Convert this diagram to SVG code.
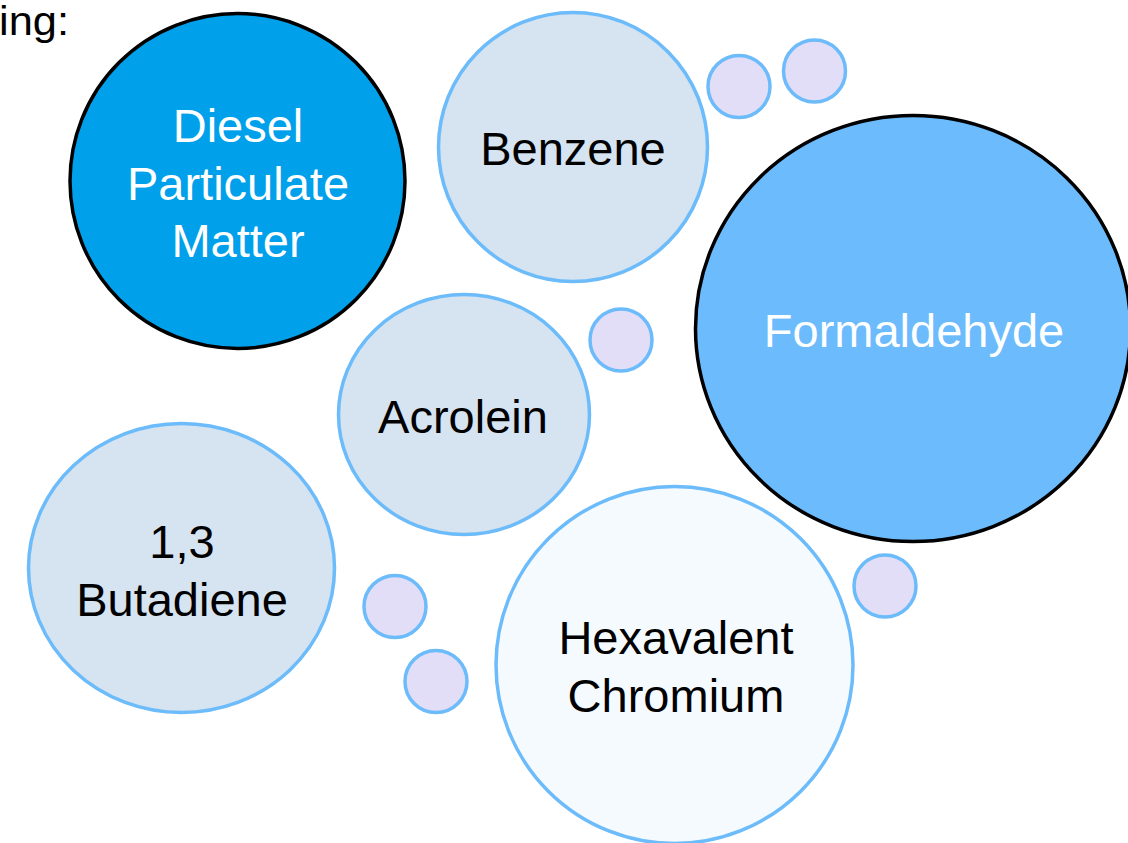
<svg xmlns="http://www.w3.org/2000/svg" width="1128" height="843" viewBox="0 0 1128 843">
<style>
text{font-family:"Liberation Sans",Arial,sans-serif;font-size:47px;text-anchor:middle}
.dark{stroke:#000;stroke-width:3.5}
.light{stroke:#6CBBFA;stroke-width:3.5}
.pale{fill:#D6E3F0}
.lav{fill:#E3DEF7}
.w{fill:#fff}
.k{fill:#000}
</style>
<rect width="1128" height="843" fill="#fff"/>
<text x="-1" y="35" class="k" style="text-anchor:start;font-size:40px" textLength="70" lengthAdjust="spacingAndGlyphs">ing:</text>
<g id="diesel">
<circle cx="237.5" cy="181" r="167.5" fill="#00A0EA" class="dark"/>
<text x="238" y="142" class="w">Diesel</text>
<text x="238" y="200" class="w">Particulate</text>
<text x="238" y="257" class="w">Matter</text>
</g>
<g id="benzene">
<circle cx="573" cy="147" r="134.5" class="pale light"/>
<text x="573" y="165" class="k">Benzene</text>
</g>
<g id="formaldehyde">
<ellipse cx="913" cy="328.5" rx="217.5" ry="213" fill="#6BBBFD" class="dark"/>
<text x="914" y="347" class="w">Formaldehyde</text>
</g>
<g id="acrolein">
<ellipse cx="464" cy="414.5" rx="125.5" ry="120" class="pale light"/>
<text x="463" y="433" class="k">Acrolein</text>
</g>
<g id="butadiene">
<ellipse cx="181.5" cy="568" rx="153" ry="144.5" class="pale light"/>
<text x="182" y="558" class="k">1,3</text>
<text x="182" y="616" class="k">Butadiene</text>
</g>
<g id="hexavalent">
<circle cx="674.5" cy="665" r="178.5" fill="#F5FAFF" class="light"/>
<text x="676" y="654" class="k">Hexavalent</text>
<text x="676" y="712" class="k">Chromium</text>
</g>
<g id="bubbles">
<circle cx="739" cy="86.5" r="31" class="lav light"/>
<circle cx="814.5" cy="71" r="31" class="lav light"/>
<circle cx="621" cy="340" r="31" class="lav light"/>
<circle cx="885" cy="586" r="31" class="lav light"/>
<circle cx="395" cy="606.5" r="31" class="lav light"/>
<circle cx="436" cy="681.5" r="31" class="lav light"/>
</g>
<g id="connectors"/>
</svg>
